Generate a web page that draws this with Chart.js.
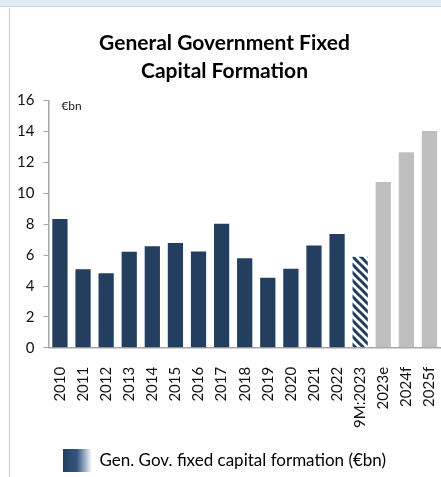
<!DOCTYPE html>
<html>
<head>
<meta charset="utf-8">
<script src="https://cdn.jsdelivr.net/npm/chart.js@4.4.0/dist/chart.umd.min.js"></script>
<style>
  body { margin: 0; background: #fff; }
  #wrap { position: relative; width: 441px; height: 477px; overflow: hidden; }
  #topStrip { position: absolute; left: 0; top: 0; width: 441px; height: 6px; background: #dcecf2; border-bottom: 1px solid #c9dbe4; }
  #leftLine { position: absolute; left: 9px; top: 8px; width: 1px; bottom: 0; background: #c8c8c8; }
</style>
</head>
<body>
<div id="wrap">
  <div id="topStrip"></div>
  <div id="leftLine"></div>
  <canvas id="gfcfChart" width="441" height="477"></canvas>
</div>
<script>
var categories = ["2010", "2011", "2012", "2013", "2014", "2015", "2016", "2017", "2018", "2019", "2020", "2021", "2022", "9M:2023", "2023e", "2024f", "2025f"];
var gfcfValues = [8.33, 5.08, 4.82, 6.21, 6.58, 6.79, 6.23, 8.03, 5.80, 4.54, 5.12, 6.62, 7.37, 5.89, 10.73, 12.66, 14.03];
var barKinds = ["actual", "actual", "actual", "actual", "actual", "actual", "actual", "actual", "actual", "actual", "actual", "actual", "actual", "partial", "forecast", "forecast", "forecast"];
var yTicks = [0, 2, 4, 6, 8, 10, 12, 14, 16];

var navy = "#243e60";
var grey = "#bfbfbf";

// hatched fill for the partial-year bar
function makeHatch() {
    var c = document.createElement("canvas");
    c.width = 8; c.height = 8;
    var p = c.getContext("2d");
    p.fillStyle = "#fff";
    p.fillRect(0, 0, 8, 8);
    p.strokeStyle = navy;
    p.lineWidth = 3;
    p.beginPath();
    p.moveTo(-2, -2); p.lineTo(10, 10);
    p.moveTo(-6, 2); p.lineTo(2, 10);
    p.moveTo(6, -2); p.lineTo(10, 2);
    p.stroke();
    return p.createPattern(c, "repeat");
}

var ctx = document.getElementById("gfcfChart").getContext("2d");
var hatch = makeHatch();

var barColors = barKinds.map(function(k) {
    if (k == "partial") return hatch;
    if (k == "forecast") return grey;
    return navy;
});

var unitLabel = {
    id: "unitLabel",
    beforeDraw: function(chart) {
        // legend swatch fades from navy to white
        var lg = chart.legend;
        if (lg && lg.legendHitBoxes && lg.legendHitBoxes.length) {
            var hb = lg.legendHitBoxes[0];
            var g = chart.ctx.createLinearGradient(hb.left, 0, hb.left + 28, 0);
            g.addColorStop(0, "#243e60");
            g.addColorStop(0.5, "#35557f");
            g.addColorStop(1, "#eef1f5");
            lg.legendItems[0].fillStyle = g;
        }
    },
    afterDraw: function(chart) {
        var y = chart.scales.y;
        var c = chart.ctx;
        c.save();
        c.fillStyle = "#222";
        c.font = "12px Lato";
        c.textBaseline = "middle";
        c.fillText("€bn", chart.chartArea.left + 13, y.getPixelForValue(16) + 6);
        c.restore();
    }
};

var myChart = new Chart(ctx, {
    type: "bar",
    data: {
        labels: categories,
        datasets: [{
            label: "Gen. Gov. fixed capital formation (€bn)",
            data: gfcfValues,
            backgroundColor: barColors,
            barPercentage: 0.66,
            categoryPercentage: 1
        }]
    },
    options: {
        responsive: false,
        animation: false,
        layout: {
            padding: { left: 8, right: 0, top: 30, bottom: -5 }
        },
        plugins: {
            title: {
                display: true,
                text: ["General Government Fixed", "Capital Formation"],
                color: "#000",
                font: { family: "Lato", size: 21, weight: "bold", lineHeight: 1.3 },
                padding: { top: 0, bottom: 16 }
            },
            legend: {
                position: "bottom",
                labels: {
                    boxWidth: 28,
                    boxHeight: 23,
                    color: "#222",
                    font: { family: "Lato", size: 17 },
                    padding: 10,
                    generateLabels: function(chart) {
                        return [{
                            text: chart.data.datasets[0].label,
                            fillStyle: navy,
                            strokeStyle: "rgba(0,0,0,0)",
                            lineWidth: 0,
                            datasetIndex: 0
                        }];
                    }
                }
            },
            tooltip: { enabled: false }
        },
        scales: {
            x: {
                offset: true,
                afterFit: function(axis) {
                    // let the plot run to the right edge
                    axis.paddingRight = 0;
                },
                grid: { display: false },
                border: { color: "#a6a6a6", width: 1.5 },
                ticks: {
                    color: "#111",
                    font: { family: "Lato", size: 15 },
                    minRotation: 90,
                    maxRotation: 90,
                    autoSkip: false,
                    padding: 11
                }
            },
            y: {
                min: 0,
                max: 16,
                afterBuildTicks: function(axis) {
                    axis.ticks = yTicks.map(function(v) { return { value: v }; });
                },
                grid: { drawOnChartArea: false, drawTicks: true, tickLength: 5, color: "#a6a6a6" },
                border: { color: "#a6a6a6", width: 1.5 },
                ticks: {
                    color: "#111",
                    font: { family: "Lato", size: 15 },
                    padding: 9
                }
            }
        }
    },
    plugins: [unitLabel]
});
</script>
</body>
</html>
